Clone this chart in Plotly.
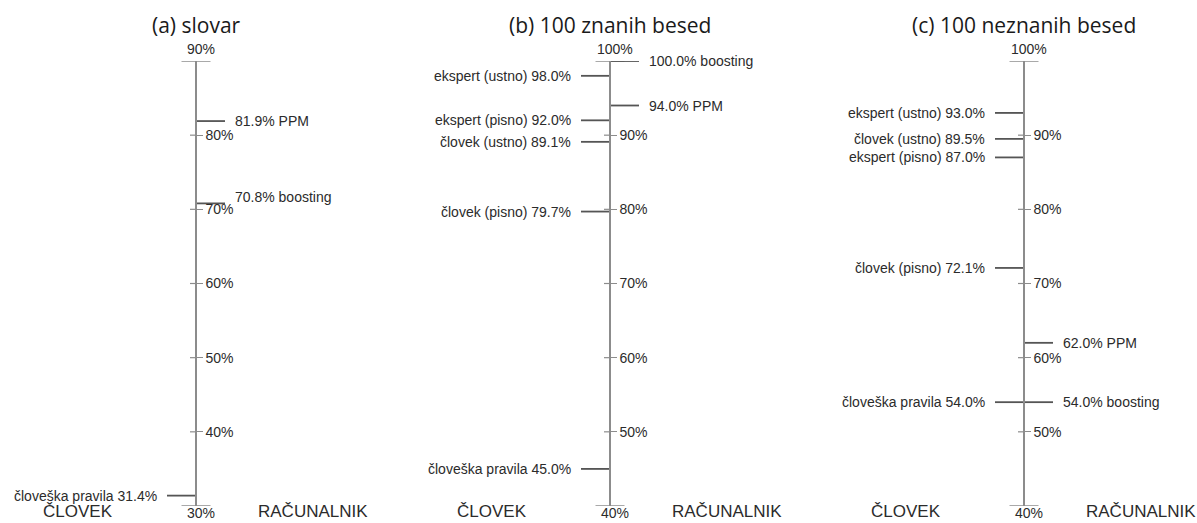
import plotly.graph_objects as go

# ---------------- data ----------------
TITLES = ["(a) slovar", "(b) 100 znanih besed", "(c) 100 neznanih besed"]
Y_RANGES = [(30, 90), (40, 100), (40, 100)]
TICK_VALUES = [[40, 50, 60, 70, 80], [50, 60, 70, 80, 90], [50, 60, 70, 80, 90]]

HUMAN = "ČLOVEK"
COMPUTER = "RAČUNALNIK"

A_METHODS = ["človeška pravila", "PPM", "boosting"]
A_GROUPS = [HUMAN, COMPUTER, COMPUTER]
A_VALUES = [31.4, 81.9, 70.8]

B_METHODS = ["ekspert (ustno)", "ekspert (pisno)", "človek (ustno)", "človek (pisno)",
             "človeška pravila", "boosting", "PPM"]
B_GROUPS = [HUMAN, HUMAN, HUMAN, HUMAN, HUMAN, COMPUTER, COMPUTER]
B_VALUES = [98.0, 92.0, 89.1, 79.7, 45.0, 100.0, 94.0]

C_METHODS = ["ekspert (ustno)", "človek (ustno)", "ekspert (pisno)", "človek (pisno)",
             "človeška pravila", "PPM", "boosting"]
C_GROUPS = [HUMAN, HUMAN, HUMAN, HUMAN, HUMAN, COMPUTER, COMPUTER]
C_VALUES = [93.0, 89.5, 87.0, 72.1, 54.0, 62.0, 54.0]

PANELS = [
    (A_METHODS, A_GROUPS, A_VALUES),
    (B_METHODS, B_GROUPS, B_VALUES),
    (C_METHODS, C_GROUPS, C_VALUES),
]

# ---------------- style / layout ----------------
W, H = 1197, 523
TOP, BOTTOM = 61, 17
AXIS_PX = [196, 610, 1024]
HALF = 150
AXIS_COLOR = "#8c8c8c"
MARK_COLOR = "#555555"
TEXT_COLOR = "#2b2b2b"
LABEL_FONT = dict(family="Liberation Sans, Arial, sans-serif", size=14, color=TEXT_COLOR)
SIDE_FONT = dict(family="Liberation Sans, Arial, sans-serif", size=17, color=TEXT_COLOR)
TITLE_FONT = dict(family="Open Sans, sans-serif", size=21, color="#1a1a1a")
LABEL_NUDGE = {(0, "boosting"): 6}  # vertical pixel nudge for crowded labels
BOTTOM_SHIFT = -(BOTTOM - 1)        # bottom texts sit inside the lower margin

fig = go.Figure()
annotations = []
layout = {}

for i, (methods, groups, values) in enumerate(PANELS):
    sfx = "" if i == 0 else str(i + 1)
    xa, ya = "x" + sfx, "y" + sfx
    lo, hi = Y_RANGES[i]
    cx = AXIS_PX[i]

    # end caps of the scale
    fig.add_trace(go.Scatter(
        x=[-14.5, 14.5, None, -14.5, 14.5], y=[lo, lo, None, hi, hi],
        xaxis=xa, yaxis=ya, mode="lines",
        line=dict(color=AXIS_COLOR, width=1.5), hoverinfo="skip", showlegend=False))

    # left halves of tick marks (right halves are drawn by the axis itself)
    tx, ty = [], []
    for t in TICK_VALUES[i]:
        tx += [-6, 0, None]
        ty += [t, t, None]
    fig.add_trace(go.Scatter(
        x=tx, y=ty, xaxis=xa, yaxis=ya, mode="lines",
        line=dict(color=AXIS_COLOR, width=1.2), hoverinfo="skip", showlegend=False))

    # result marks
    for m, g, v in zip(methods, groups, values):
        if g == HUMAN:
            xs = [-29, 0]
            text = f"{m} {v:.1f}%"
            ax, anchor = -37, "right"
        else:
            xs = [0, 29]
            text = f"{v:.1f}% {m}"
            ax, anchor = 37, "left"
        fig.add_trace(go.Scatter(
            x=xs, y=[v, v], xaxis=xa, yaxis=ya, mode="lines",
            line=dict(color=MARK_COLOR, width=1.8), hoverinfo="skip", showlegend=False))
        annotations.append(dict(
            x=ax, y=v, xref=xa, yref=ya, text=text, showarrow=False,
            xanchor=anchor, yanchor="middle", font=LABEL_FONT,
            yshift=LABEL_NUDGE.get((i, m), 0)))

    # end labels
    annotations.append(dict(x=5, y=hi, xref=xa, yref=ya, text=f"{hi}%", showarrow=False,
                            xanchor="center", yanchor="middle", yshift=12, font=LABEL_FONT))
    annotations.append(dict(x=5, y=lo, xref=xa, yref=ya, text=f"{lo}%", showarrow=False,
                            xanchor="center", yanchor="bottom", yshift=BOTTOM_SHIFT,
                            borderpad=0, font=LABEL_FONT))
    # side labels
    annotations.append(dict(x=-118, y=lo, xref=xa, yref=ya, text=HUMAN, showarrow=False,
                            xanchor="center", yanchor="bottom", yshift=BOTTOM_SHIFT,
                            borderpad=0, font=SIDE_FONT))
    annotations.append(dict(x=117, y=lo, xref=xa, yref=ya, text=COMPUTER, showarrow=False,
                            xanchor="center", yanchor="bottom", yshift=BOTTOM_SHIFT,
                            borderpad=0, font=SIDE_FONT))
    # title
    annotations.append(dict(x=0, y=hi, xref=xa, yref=ya, text=TITLES[i], showarrow=False,
                            xanchor="center", yanchor="middle", yshift=36, font=TITLE_FONT))

    layout["xaxis" + sfx] = dict(
        domain=[(cx - HALF) / W, (cx + HALF) / W], range=[-HALF, HALF],
        visible=False, anchor=ya, fixedrange=True)
    layout["yaxis" + sfx] = dict(
        domain=[0, 1], range=[lo, hi], anchor="free", position=cx / W, side="right",
        showline=True, linecolor=AXIS_COLOR, linewidth=1.5,
        ticks="outside", ticklen=6, tickwidth=1.2, tickcolor=AXIS_COLOR,
        tickvals=TICK_VALUES[i], ticktext=[f"{t}%" for t in TICK_VALUES[i]],
        tickfont=LABEL_FONT, showgrid=False, zeroline=False, fixedrange=True)

fig.update_layout(
    width=W, height=H,
    margin=dict(l=0, r=0, t=TOP, b=BOTTOM),
    paper_bgcolor="white", plot_bgcolor="white",
    showlegend=False, annotations=annotations, **layout)

fig.write_html(
    "out.html",
    config={"displayModeBar": False},
    post_script="document.body.style.margin='0';document.body.style.overflow='hidden';",
)
